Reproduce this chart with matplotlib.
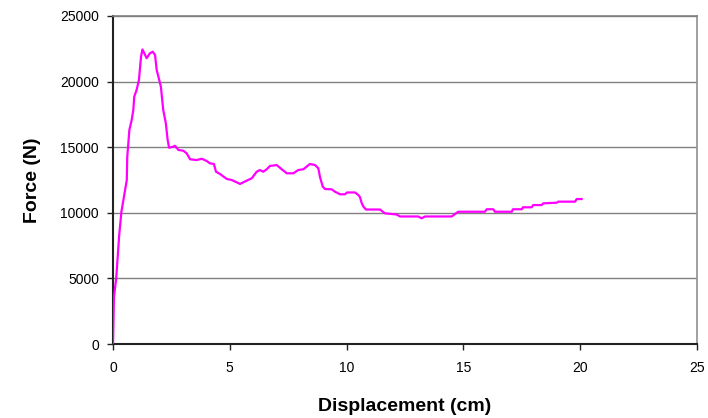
import matplotlib
matplotlib.use("Agg")
import matplotlib.pyplot as plt

plt.rcParams['font.family'] = ['Liberation Sans', 'DejaVu Sans']

displacement_cm = [
    0.00, 0.04, 0.14, 0.26, 0.36, 0.59, 0.61, 0.70, 0.80, 0.87, 0.91, 1.01, 1.11,
    1.20, 1.26, 1.34, 1.44, 1.58, 1.70, 1.80, 1.87, 1.98, 2.05, 2.15, 2.26, 2.34,
    2.40, 2.58, 2.65, 2.80, 3.01, 3.15, 3.30, 3.58, 3.80, 4.01, 4.15, 4.32, 4.41,
    4.58, 4.87, 5.08, 5.30, 5.44, 5.72, 5.94, 6.15, 6.29, 6.43, 6.58, 6.72, 7.01,
    7.22, 7.44, 7.72, 7.93, 8.15, 8.43, 8.65, 8.79, 8.86, 8.98, 9.08, 9.36, 9.50,
    9.72, 9.93, 10.02, 10.36, 10.50, 10.57, 10.65, 10.72, 10.83, 11.43, 11.64,
    12.14, 12.29, 13.07, 13.21, 13.36, 14.50, 14.64, 14.78, 15.92, 16.00, 16.28,
    16.35, 17.07, 17.12, 17.50, 17.55, 17.92, 17.99, 18.35, 18.42, 19.00, 19.06,
    19.78, 19.85, 20.06,
]
force_N = [
    0, 3580, 5050, 8180, 10080, 12500, 14250, 16310, 17070, 17840, 18850, 19360, 20120,
    21900, 22450, 22160, 21780, 22160, 22280, 22030, 20880, 20120, 19610, 17840, 16840, 15550,
    14960, 15040, 15110, 14790, 14730, 14540, 14080, 14020, 14120, 13950, 13770, 13720, 13130,
    12960, 12580, 12500, 12320, 12200, 12450, 12630, 13130, 13260, 13130, 13320, 13570, 13640,
    13320, 13010, 13010, 13260, 13320, 13720, 13640, 13390, 12730, 11990, 11810, 11790, 11610,
    11410, 11410, 11550, 11550, 11360, 11200, 10720, 10470, 10250, 10250, 9960,
    9870, 9720, 9720, 9580, 9720, 9720, 9910, 10080, 10080, 10270, 10270,
    10080, 10080, 10270, 10270, 10420, 10420, 10590, 10590, 10720, 10770, 10850,
    10850, 11050, 11050,
]

x_ticks = [0, 5, 10, 15, 20, 25]
y_ticks = [0, 5000, 10000, 15000, 20000, 25000]
grid_levels = [5000, 10000, 15000, 20000, 25000]

fig = plt.figure(figsize=(7.08, 4.18), dpi=100)
ax = fig.add_axes([113/708, 74/418, 584/708, 328/418])

for g in grid_levels:
    ax.axhline(g, color='#808080', lw=1.0, zorder=1)

ax.plot(displacement_cm, force_N, color='#FF00FF', lw=1.6, zorder=3,
        solid_joinstyle='round')

ax.set_xlim(0, 25)
ax.set_ylim(0, 25000)
ax.set_xticks(x_ticks)
ax.set_yticks(y_ticks)
ax.set_xticklabels([str(v) for v in x_ticks])
ax.set_yticklabels([str(v) for v in y_ticks])

ax.tick_params(axis='both', direction='out', length=4, width=1.0, color='#222222',
               labelsize=10, labelcolor='black')
ax.tick_params(axis='x', pad=8)
ax.tick_params(axis='y', pad=6)

ax.spines['left'].set_color('#222222')
ax.spines['left'].set_linewidth(1.5)
ax.spines['bottom'].set_color('#222222')
ax.spines['bottom'].set_linewidth(1.5)
ax.spines['right'].set_color('#909090')
ax.spines['right'].set_linewidth(1.2)
ax.spines['top'].set_color('#808080')
ax.spines['top'].set_linewidth(1.2)

ax.set_xlabel('Displacement (cm)', fontsize=14, fontweight='bold', labelpad=17)
ax.set_ylabel('Force (N)', fontsize=14, fontweight='bold', labelpad=14)

fig.savefig('out.png', dpi=100, facecolor='white')
